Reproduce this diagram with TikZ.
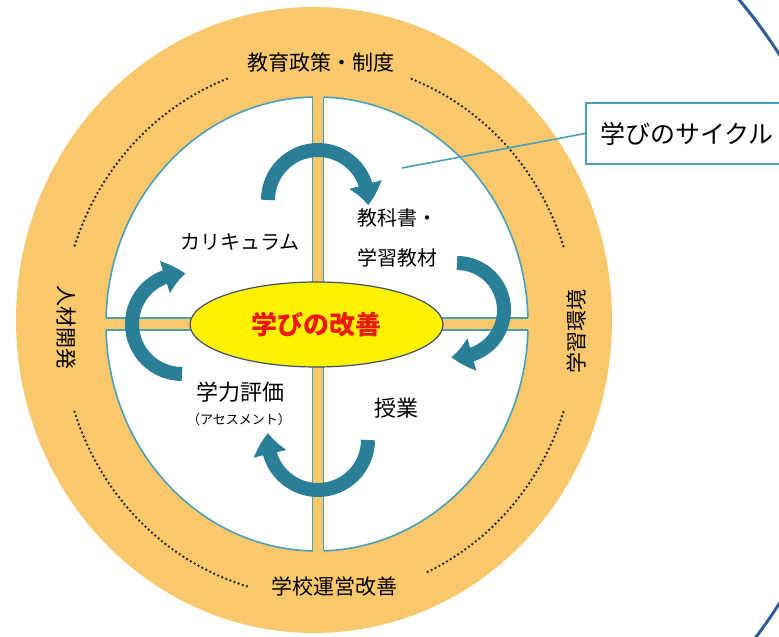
\documentclass[tikz,border=0pt]{standalone}
\usepackage{fontspec}
\setmainfont{Noto Sans CJK JP}
\usetikzlibrary{shapes.geometric,arrows.meta,bending}
\definecolor{orng}{RGB}{250,200,108}
\definecolor{bordteal}{RGB}{75,160,185}
\definecolor{arrteal}{RGB}{42,126,152}
\definecolor{ringblue}{RGB}{50,90,150}
\definecolor{ovalrim}{RGB}{60,80,110}
\definecolor{coretext}{RGB}{235,25,20}
\tikzset{
  dotline/.style={line width=2.7pt, dash pattern=on 0pt off 4.4pt, line cap=round, black!85},
  cyclearrow/.style={arrteal, line width=14pt, -{Triangle[length=21pt,width=32pt,bend]}},
  outerlbl/.style={font=\fontsize{21}{24}\selectfont, inner sep=0pt, text=black},
  innerlbl/.style={font=\fontsize{20}{24}\selectfont, inner sep=0pt, text=black},
  smalllbl/.style={font=\fontsize{13}{16}\selectfont, inner sep=0pt, text=black},
}
\begin{document}
\begin{tikzpicture}[x=1pt,y=1pt]
\useasboundingbox (0,0) rectangle (779,637);
\clip (0,0) rectangle (779,637);
\fill[white] (0,0) rectangle (779,637);

% big blue ring at right
\draw[ringblue, line width=3pt] (347,308) circle [radius=512pt];

% outer orange ellipse
\fill[orng] (314,317) ellipse [x radius=298pt, y radius=313pt];

% dotted arcs
\draw[dotline] (319,308) ++(111:257pt and 268pt) arc[start angle=111, end angle=162, x radius=257pt, y radius=268pt];
\draw[dotline] (319,308) ++(18:257pt and 268pt) arc[start angle=18, end angle=69, x radius=257pt, y radius=268pt];
\draw[dotline] (319,308) ++(-65:257pt and 268pt) arc[start angle=-65, end angle=-18, x radius=257pt, y radius=268pt];
\draw[dotline] (319,308) ++(198:257pt and 268pt) arc[start angle=198, end angle=254, x radius=257pt, y radius=268pt];

% outer labels
\node[outerlbl] (policy) at (321,574) {教育政策・制度};
\node[outerlbl] (school) at (334,50) {学校運営改善};
\node[outerlbl, rotate=-90] (people) at (66,309) {人材開発};
\node[outerlbl, rotate=90] (env) at (576,305) {学習環境};

% inner white ellipse
\draw[bordteal, line width=1.6pt, fill=white] (317,313) ellipse [x radius=211pt, y radius=227pt];

% cross bands
\begin{scope}
  \clip (317,313) ellipse [x radius=213pt, y radius=229pt];
  \fill[orng] (312.5,0) rectangle (323.5,637);
  \fill[orng] (0,307) rectangle (779,319);
\end{scope}
\begin{scope}
  \clip (317,313) ellipse [x radius=211pt, y radius=227pt];
  \draw[bordteal, line width=1.4pt] (312.5,0) -- (312.5,637) (323.5,0) -- (323.5,637)
        (0,307) -- (779,307) (0,319) -- (779,319);
\end{scope}

% cycle arrows
\draw[cyclearrow] (318,437) ++(180:50pt) arc[start angle=180, end angle=-6, radius=50pt];
\draw[cyclearrow] (457,327) ++(90:47pt) arc[start angle=90, end angle=-97, radius=47pt];
\draw[cyclearrow] (318,197) ++(0:50pt) arc[start angle=0, end angle=-188, radius=50pt];
\draw[cyclearrow] (182,313) ++(-90:50pt) arc[start angle=-90, end angle=-274, radius=50pt];

% core
\node[ellipse, draw=ovalrim, line width=1.2pt, fill=yellow, minimum width=253pt, minimum height=85pt, inner sep=0pt,
      font=\fontsize{26}{30}\selectfont\bfseries, text=coretext] (core) at (316.5,312.5) {学びの改善};

% inner labels
\node[innerlbl] (curric) at (240,395) {カリキュラム};
\node[innerlbl, anchor=west] (text1) at (357,419) {教科書・};
\node[innerlbl, anchor=west] (text2) at (357,379) {学習教材};
\node[innerlbl, font=\fontsize{22}{26}\selectfont] (assess) at (240,245) {学力評価};
\node[smalllbl] (assess2) at (239,217) {（アセスメント）};
\node[innerlbl, font=\fontsize{22}{26}\selectfont] (lesson) at (396,229) {授業};

% callout
\node[draw=bordteal, line width=2pt, fill=white, anchor=west, text width=200pt, align=left,
      inner xsep=14pt, minimum height=61pt, font=\fontsize{25}{30}\selectfont, text=black] (cyc) at (585,503.5) {学びのサイクル};
\coordinate (cycpt) at (402,469);
\draw[bordteal, line width=1.6pt] (cyc.west) -- (cycpt);
\end{tikzpicture}
\end{document}
